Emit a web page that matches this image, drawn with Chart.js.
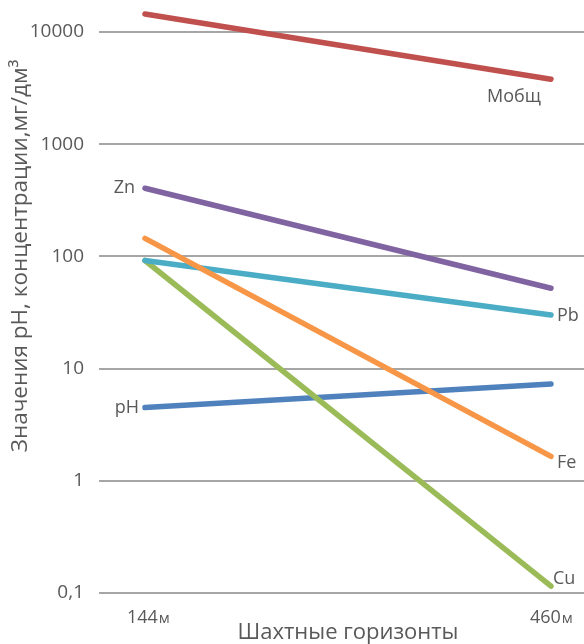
<!DOCTYPE html>
<html><head><meta charset="utf-8">
<script src="https://cdn.jsdelivr.net/npm/chart.js@4"></script>
<style>html,body{margin:0;padding:0;background:#fff}#wrap{width:584px;height:644px}</style>
</head><body><div id="wrap"><canvas id="c"></canvas></div>
<script>
const depths = [144, 460];
const xLabelNums = ['144', '460'];
const xLabelUnit = 'м';
const seriesNames = ['Мобщ', 'Zn', 'Fe', 'Pb', 'Cu', 'pH'];
const mobsh = [14500, 3800];
const zn = [405, 52];
const fe = [145, 1.65];
const pb = [92, 30];
const cu = [92, 0.115];
const ph = [4.5, 7.3];
const yTicks = [0.1, 1, 10, 100, 1000, 10000];
const yTickLabels = ['0,1', '1', '10', '100', '1000', '10000'];

const colors = ['#c0504d', '#8064a2', '#f79646', '#4bacc6', '#9bbb59', '#4f81bd'];
const allData = [mobsh, zn, fe, pb, cu, ph];
const labelPos = [
  {i:1, dx:-37, dy:18, align:'center'},
  {i:0, dx:-10, dy:0, align:'right'},
  {i:1, dx:6, dy:6, align:'left'},
  {i:1, dx:6, dy:1, align:'left'},
  {i:1, dx:2, dy:-7, align:'left'},
  {i:0, dx:-6, dy:0, align:'right'}
];

const textColor = '#595959';
const fontFam = '"Open Sans", "Noto Sans", sans-serif';

const labelPlugin = {
  id: 'labels',
  afterDatasetsDraw(chart) {
    const ctx = chart.ctx;
    const xs = chart.scales.x, ys = chart.scales.y;
    ctx.save();
    ctx.fillStyle = textColor;
    // y tick labels
    ctx.font = '19px ' + fontFam;
    ctx.textBaseline = 'middle';
    ctx.textAlign = 'right';
    yTicks.forEach((v, i) => {
      ctx.fillText(yTickLabels[i], ys.left + ys.width - 15, ys.getPixelForValue(v));
    });
    // series labels
    ctx.font = '18px ' + fontFam;
    seriesNames.forEach((n, k) => {
      const p = labelPos[k];
      const px = xs.getPixelForValue(depths[p.i]);
      const py = ys.getPixelForValue(allData[k][p.i]);
      ctx.textAlign = p.align;
      ctx.fillText(n, px + p.dx, py + p.dy);
    });
    // x tick labels: number + smaller unit
    ctx.textBaseline = 'alphabetic';
    ctx.textAlign = 'left';
    const starts = [-18, -21];
    depths.forEach((d, i) => {
      const px = xs.getPixelForValue(d) + starts[i];
      ctx.font = '18px ' + fontFam;
      ctx.fillText(xLabelNums[i], px, 623);
      const w = ctx.measureText(xLabelNums[i]).width;
      ctx.font = '15px ' + fontFam;
      ctx.fillText(xLabelUnit, px + w + 1, 623);
    });
    // axis titles
    ctx.textBaseline = 'middle';
    ctx.textAlign = 'center';
    ctx.font = '22.5px ' + fontFam;
    ctx.save();
    ctx.translate(21, 256);
    ctx.rotate(-Math.PI / 2);
    ctx.fillText('Значения pH, концентрации,мг/дм³', 0, 0);
    ctx.restore();
    ctx.textBaseline = 'alphabetic';
    ctx.font = '22px ' + fontFam;
    ctx.fillText('Шахтные горизонты', 348, 639);
    ctx.restore();
  }
};

new Chart(document.getElementById('c'), {
  type: 'line',
  data: {
    datasets: seriesNames.map((n, k) => ({
      label: n,
      data: depths.map((d, i) => ({x: d, y: allData[k][i]})),
      borderColor: colors[k],
      backgroundColor: colors[k],
      borderWidth: 5.5,
      borderCapStyle: 'round',
      pointRadius: 0,
      tension: 0,
      clip: 6
    }))
  },
  options: {
    responsive: true,
    maintainAspectRatio: false,
    animation: false,
    layout: {padding: 0, autoPadding: false},
    plugins: {legend: {display: false}, tooltip: {enabled: false}},
    scales: {
      x: {
        type: 'linear',
        min: 108.2,
        max: 485.7,
        afterBuildTicks(s) { s.ticks = depths.map(v => ({value: v})); },
        afterFit(s) { s.height = 51; },
        grid: {display: false},
        border: {display: false},
        ticks: {display: false}
      },
      y: {
        type: 'logarithmic',
        bounds: 'data',
        min: 0.1,
        max: 19300,
        afterBuildTicks(s) { s.ticks = yTicks.map(v => ({value: v})); },
        afterFit(s) { s.width = 99; },
        grid: {color: '#a6a6a6', lineWidth: 2, drawTicks: false},
        border: {display: false},
        ticks: {display: false}
      }
    }
  },
  plugins: [labelPlugin]
});
</script>
</body></html>
